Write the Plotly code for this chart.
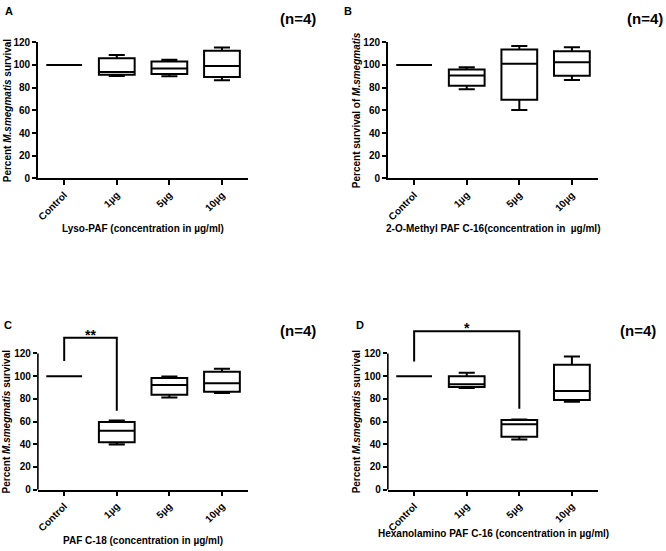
import plotly.graph_objects as go

categories = ["Control", "1µg", "5µg", "10µg"]
y_tick_values = [0, 20, 40, 60, 80, 100, 120]

# Box statistics per panel: lower whisker, Q1, median, Q3, upper whisker
A_low = [100, 90.3, 90.0, 86.6]
A_q1 = [100, 91.4, 92.0, 89.5]
A_med = [100, 93.9, 97.0, 99.0]
A_q3 = [100, 105.9, 103.0, 112.5]
A_high = [100, 108.8, 104.7, 115.4]

B_low = [100, 78.7, 60.4, 86.8]
B_q1 = [100, 81.6, 69.4, 90.5]
B_med = [100, 90.7, 101.0, 102.4]
B_q3 = [100, 96.0, 113.6, 112.0]
B_high = [100, 98.0, 116.8, 115.7]

C_low = [100, 39.7, 81.2, 85.2]
C_q1 = [100, 41.7, 83.5, 86.3]
C_med = [100, 51.8, 92.1, 93.8]
C_q3 = [100, 59.6, 98.4, 103.9]
C_high = [100, 61.0, 99.6, 106.5]

D_low = [100, 89.5, 44.1, 77.5]
D_q1 = [100, 90.5, 46.7, 79.0]
D_med = [100, 92.8, 57.7, 86.8]
D_q3 = [100, 100.0, 61.4, 110.1]
D_high = [100, 102.9, 61.7, 117.3]

panel_letters = ["A", "B", "C", "D"]
n_label = "(n=4)"
x_titles = [
    "Lyso-PAF (concentration in µg/ml)",
    "2-O-Methyl PAF C-16(concentration in  µg/ml)",
    "PAF C-18 (concentration in µg/ml)",
    "Hexanolamino PAF C-16 (concentration in µg/ml)",
]
y_titles = [
    "Percent <i>M.smegmatis</i> survival",
    "Percent survival of <i>M.smegmatis</i>",
    "Percent <i>M.smegmatis</i> survival",
    "Percent <i>M.smegmatis</i> survival",
]

# significance brackets: (from, to, leg start from, leg start to, top, label)
sig_C = ("Control", "1µg", 113.4, 69.6, 133.8, "**")
sig_D = ("Control", "5µg", 112.8, 71.2, 139.6, "*")

FONT = "Arial, 'Liberation Sans', sans-serif"
W, H = 666, 551

stats = [
    (A_low, A_q1, A_med, A_q3, A_high),
    (B_low, B_q1, B_med, B_q3, B_high),
    (C_low, C_q1, C_med, C_q3, C_high),
    (D_low, D_q1, D_med, D_q3, D_high),
]

# layout geometry (pixels)
x_px = [(36, 247), (387, 598), (36, 247), (387, 598)]
y_bottom_px = [177, 177, 494.5, 494.5]
px_per_unit = 1.158
y_top_val = [120, 120, 150, 150]
x_title_shift = [-50, -50, -51, -44]

fig = go.Figure()

for i in range(4):
    sfx = "" if i == 0 else str(i + 1)
    low, q1, med, q3, high = stats[i]
    fig.add_trace(go.Box(
        x=categories, q1=q1, median=med, q3=q3,
        lowerfence=low, upperfence=high,
        xaxis="x" + sfx, yaxis="y" + sfx,
        width=0.68, whiskerwidth=0.45,
        fillcolor="white", line=dict(color="black", width=2),
        boxpoints=False, hoverinfo="skip",
    ))
    x0, x1 = x_px[i]
    yb = y_bottom_px[i]
    yt = yb - y_top_val[i] * px_per_unit
    xdom = [x0 / W, x1 / W]
    ydom = [1 - yb / H, 1 - yt / H]
    ext = y_top_val[i] > 120
    fig.layout["xaxis" + sfx] = dict(
        domain=xdom, anchor="y" + sfx, type="category",
        categoryorder="array", categoryarray=categories,
        range=[-0.5, 3.5], showline=True, linecolor="black", linewidth=1.6,
        ticks="outside", ticklen=5, tickwidth=1.6, tickcolor="black",
        tickangle=-45, showgrid=False, zeroline=False,
        tickfont=dict(family=FONT, size=10, color="black", weight="bold"),
    )
    fig.layout["yaxis" + sfx] = dict(
        domain=ydom, anchor="x" + sfx, range=[0, y_top_val[i]],
        tickvals=y_tick_values, showline=not ext, linecolor="black",
        linewidth=1.6, ticks="outside", ticklen=4, tickwidth=1.6,
        tickcolor="black", showgrid=False, zeroline=False,
        tickfont=dict(family=FONT, size=10, color="black", weight="bold"),
    )
    if ext:
        fig.add_shape(type="line", xref="x" + sfx + " domain", x0=0, x1=0,
                      yref="y" + sfx, y0=0, y1=120,
                      line=dict(color="black", width=1.6))
    # y title
    fig.add_annotation(text=y_titles[i], textangle=-90,
                       xref="x" + sfx + " domain", x=0, yref="y" + sfx, y=60,
                       xanchor="center", yanchor="middle", xshift=-31,
                       showarrow=False,
                       font=dict(family=FONT, size=10, color="black", weight="bold"))
    # x title
    fig.add_annotation(text=x_titles[i],
                       xref="x" + sfx + " domain", x=0.5, yref="y" + sfx, y=0,
                       xanchor="center", yanchor="middle", yshift=x_title_shift[i],
                       showarrow=False,
                       font=dict(family=FONT, size=10, color="black", weight="bold"))

# panel letters and n labels
letter_pos = [(7, 6), (347, 6), (6, 327), (359, 327)]
n_pos = [(297, 14), (645, 14), (297, 332), (638, 332)]
for i in range(4):
    lx, ly = letter_pos[i]
    fig.add_annotation(text=panel_letters[i], xref="paper", yref="paper",
                       x=lx / W, y=1 - ly / H, xanchor="center", yanchor="middle",
                       showarrow=False,
                       font=dict(family=FONT, size=11, color="black", weight="bold"))
    nx, ny = n_pos[i]
    fig.add_annotation(text=n_label, xref="paper", yref="paper",
                       x=nx / W, y=1 - ny / H, xanchor="center", yanchor="middle",
                       showarrow=False,
                       font=dict(family=FONT, size=15, color="black", weight="bold"))

# significance brackets
for sig, sfx in ((sig_C, "3"), (sig_D, "4")):
    c0, c1, l0, l1, top, lab = sig
    fig.add_trace(go.Scatter(
        x=[c0, c0, c1, c1], y=[l0, top, top, l1], mode="lines",
        line=dict(color="black", width=2), xaxis="x" + sfx, yaxis="y" + sfx,
        hoverinfo="skip",
    ))
    mid = (categories.index(c0) + categories.index(c1)) / 2
    fig.add_annotation(text=lab, xref="x" + sfx, yref="y" + sfx, x=mid, y=top,
                       xanchor="center", yanchor="bottom", yshift=-7,
                       showarrow=False,
                       font=dict(family=FONT, size=14, color="black", weight="bold"))

fig.update_layout(
    width=W, height=H, margin=dict(l=0, r=0, t=0, b=0),
    paper_bgcolor="white", plot_bgcolor="white", showlegend=False,
    boxmode="overlay",
)

fig.write_html("out.html", config={"displayModeBar": False},
               post_script="document.body.style.margin='0';document.body.style.overflow='hidden';")
